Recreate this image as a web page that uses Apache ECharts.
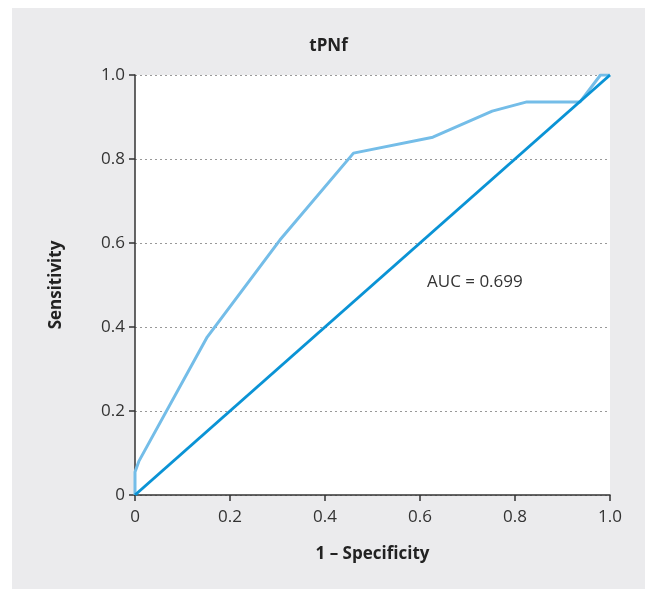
<!DOCTYPE html>
<html>
<head>
<meta charset="utf-8">
<style>
  html, body { margin: 0; padding: 0; background: #fff; }
  #main { width: 657px; height: 589px; }
</style>
<script src="https://cdn.jsdelivr.net/npm/echarts@6/dist/echarts.min.js"></script>
</head>
<body>
<div id="main"></div>
<script>
// ROC curve points, [1 - specificity, sensitivity]
var rocPoints = [
  [0, 0], [0, 0.055], [0.008, 0.08], [0.152, 0.376], [0.305, 0.607],
  [0.46, 0.814], [0.627, 0.852], [0.752, 0.914], [0.825, 0.936],
  [0.937, 0.936], [0.98, 1.0], [1.0, 1.0]
]
var refLine = [[0, 0], [1, 1]]
var tickLabels = { 0: '0', 0.2: '0.2', 0.4: '0.4', 0.6: '0.6', 0.8: '0.8', 1: '1.0' }
var aucText = 'AUC = 0.699'

var font = '"Open Sans", "Noto Sans", sans-serif'
var chart = echarts.init(document.getElementById('main'))

function fmt (v) {
  var k = Math.round(v * 10) / 10
  return tickLabels[k] !== undefined ? tickLabels[k] : ''
}

chart.setOption({
  animation: false,
  graphic: [
    {
      type: 'rect',
      z: -10,
      shape: { x: 12, y: 8, width: 633, height: 581 },
      style: { fill: '#ebebed' }
    },
    {
      type: 'text',
      left: 427,
      top: 274,
      style: { text: aucText, font: '17px ' + font, fill: '#333' }
    }
  ],
  title: {
    text: 'tPNf',
    left: 'center',
    top: 33,
    textStyle: { fontFamily: font, fontSize: 17, fontWeight: 'bold', color: '#222' }
  },
  grid: {
    left: 135, right: 47, top: 75, bottom: 94,
    show: true, backgroundColor: '#fff', borderWidth: 0
  },
  xAxis: {
    type: 'value', min: 0, max: 1, interval: 0.2,
    name: '1 – Specificity', nameLocation: 'middle', nameGap: 51,
    nameTextStyle: { fontFamily: font, fontSize: 17, fontWeight: 'bold', color: '#222' },
    axisLine: { show: true, lineStyle: { color: '#333', width: 1.5 } },
    axisTick: { show: true, length: 6, lineStyle: { color: '#333', width: 1.5 } },
    axisLabel: { formatter: fmt, fontFamily: font, fontSize: 17, color: '#333', margin: 14 },
    splitLine: { show: false }
  },
  yAxis: {
    type: 'value', min: 0, max: 1, interval: 0.2,
    name: 'Sensitivity', nameLocation: 'middle', nameGap: 70,
    nameTextStyle: { fontFamily: font, fontSize: 17, fontWeight: 'bold', color: '#222' },
    axisLine: { show: true, lineStyle: { color: '#333', width: 1.5 } },
    axisTick: { show: true, length: 6, lineStyle: { color: '#333', width: 1.5 } },
    axisLabel: { formatter: fmt, fontFamily: font, fontSize: 17, color: '#333', margin: 10 },
    splitLine: { show: true, lineStyle: { color: '#999', type: [2, 3], width: 1 } }
  },
  series: [
    {
      type: 'line',
      data: refLine,
      symbol: 'none',
      lineStyle: { color: '#0a93d5', width: 3 },
      z: 3
    },
    {
      type: 'line',
      data: rocPoints,
      symbol: 'none',
      lineStyle: { color: '#74bde8', width: 3 },
      z: 2
    }
  ]
})
</script>
</body>
</html>
